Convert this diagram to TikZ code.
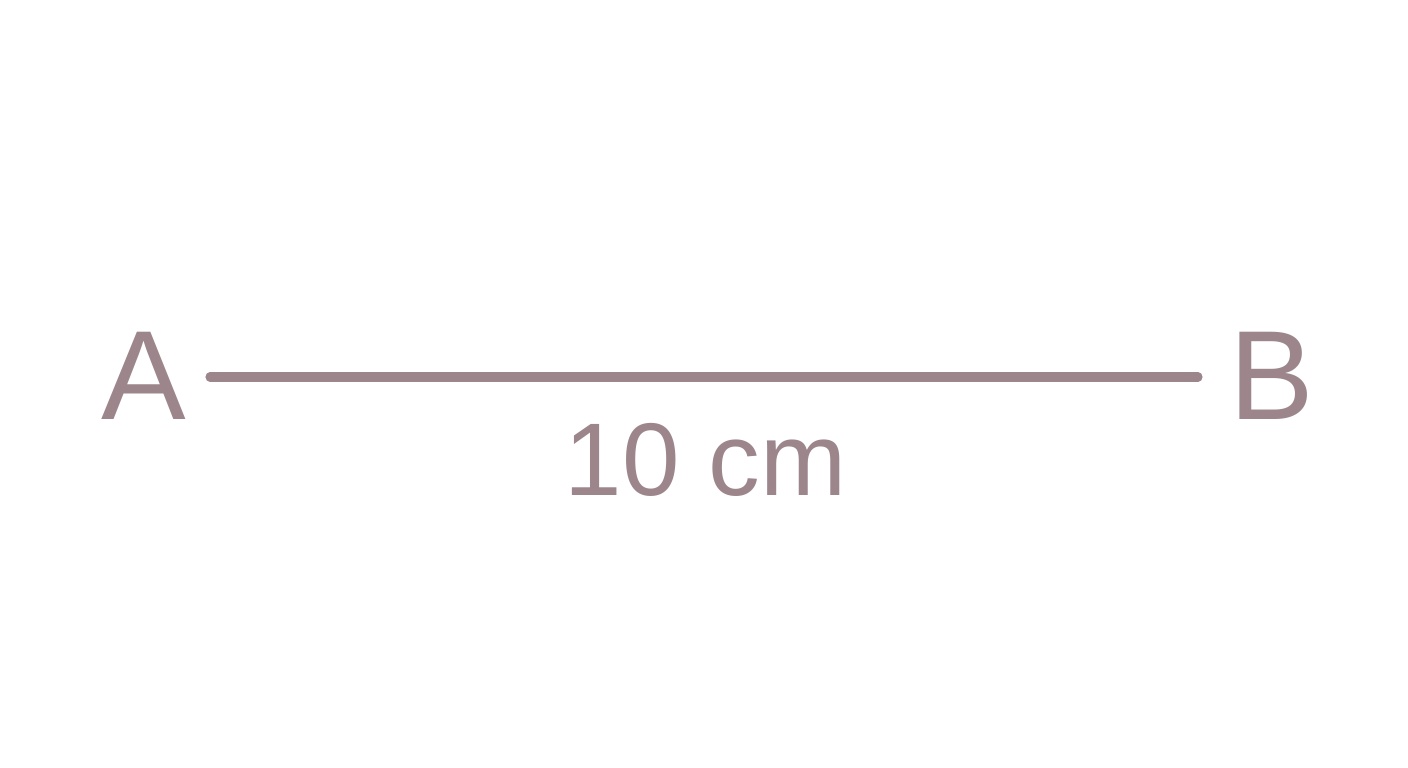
\documentclass[tikz,border=0pt]{standalone}
\usepackage{fontspec}
\setmainfont{Liberation Sans}
\definecolor{seg}{HTML}{9C868C}
\begin{document}
\begin{tikzpicture}[
  lbl/.style={text=seg, inner sep=0pt, anchor=base},
  segline/.style={draw=seg, line width=2.6pt, line cap=round}
]
\useasboundingbox (0,0) rectangle (14.08,7.68);
\fill[white] (0,0) rectangle (14.08,7.68);
\node[lbl, font=\fontsize{36.1}{40}\selectfont] (A) at (1.44,3.48) {A};
\node[lbl, font=\fontsize{36.1}{40}\selectfont] (B) at (12.715,3.48) {B};
\coordinate (a0) at (2.10,3.91);
\coordinate (b0) at (11.98,3.91);
\draw[segline] (a0) -- (b0);
\node[lbl, font=\fontsize{29.4}{33}\selectfont] (len) at (7.055,2.72) {10 cm};
\end{tikzpicture}
\end{document}
